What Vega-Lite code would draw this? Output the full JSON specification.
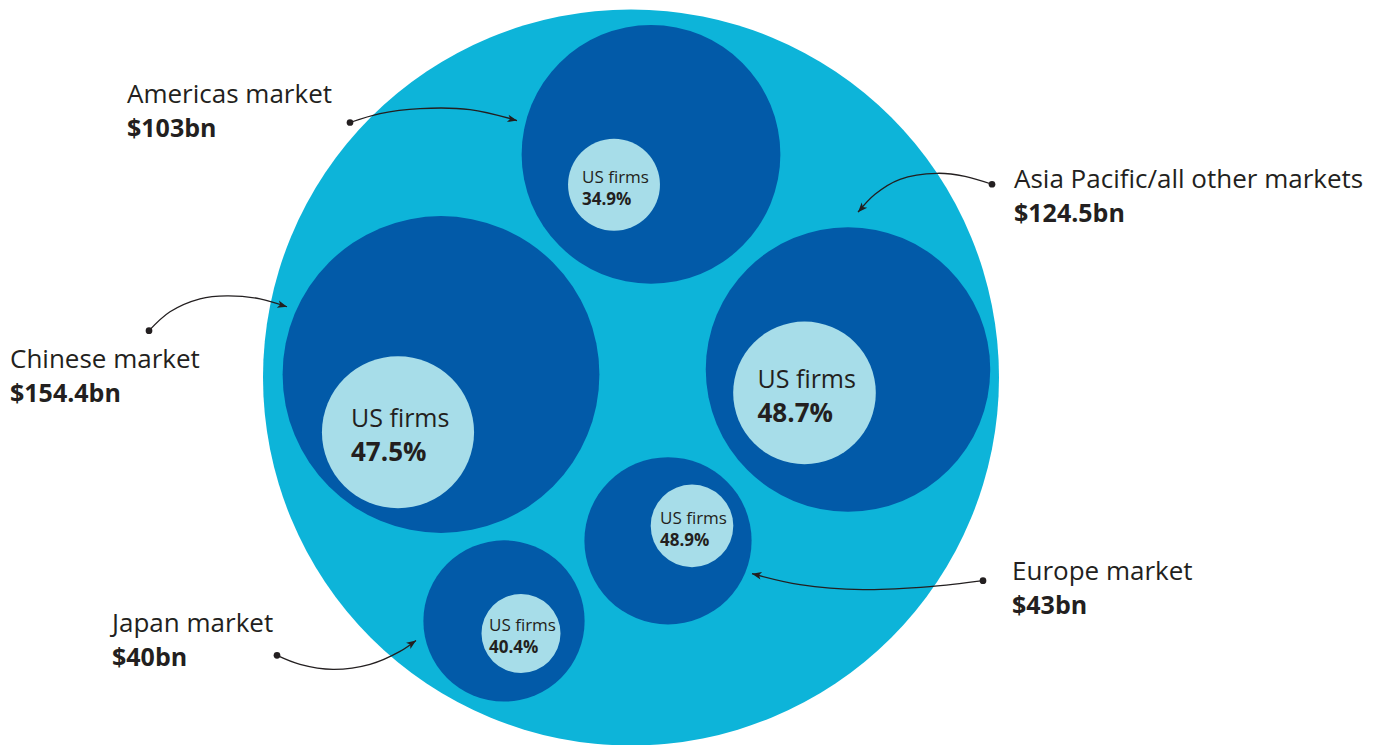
{
  "$schema": "https://vega.github.io/schema/vega-lite/v6.json",
  "autosize": {"type": "fit", "contains": "padding"},
  "width": 1392,
  "height": 745,
  "padding": 0,
  "background": "white",
  "config": {"view": {"stroke": null}, "font": "Open Sans"},
  "datasets": {
    "markets": [
      {"market": "Americas", "value": 103, "share": 0.349, "x": 2.0, "y": 22.4, "ix": -1.7, "iy": 19.35, "inner": 13.0},
      {"market": "Chinese", "value": 154.4, "share": 0.475, "x": -19.0, "y": 0.3, "ix": -23.3, "iy": -5.5, "inner": 35.6},
      {"market": "Asia Pacific/all other", "value": 124.5, "share": 0.487, "x": 21.7, "y": 0.8, "ix": 17.35, "iy": -1.55, "inner": 31.3},
      {"market": "Europe", "value": 43, "share": 0.489, "x": 3.7, "y": -16.4, "ix": 6.1, "iy": -14.9, "inner": 10.5},
      {"market": "Japan", "value": 40, "share": 0.404, "x": -12.7, "y": -24.45, "ix": -11.0, "iy": -25.7, "inner": 9.6}
    ],
    "annotations": [
      {"market": "Americas", "label": "Americas market", "amount": "$103bn", "lx": -50.4, "ly": 27.6, "dotx": -28.1, "doty": 25.6, "tipx": -11.4, "tipy": 25.8, "angle": 13},
      {"market": "Asia Pacific/all other", "label": "Asia Pacific/all other markets", "amount": "$124.5bn", "lx": 38.3, "ly": 19.0, "dotx": 36.1, "doty": 19.4, "tipx": 22.7, "tipy": 16.6, "angle": 133},
      {"market": "Chinese", "label": "Chinese market", "amount": "$154.4bn", "lx": -62.1, "ly": 1.0, "dotx": -48.2, "doty": 4.7, "tipx": -34.4, "tipy": 7.1, "angle": 16},
      {"market": "Europe", "label": "Europe market", "amount": "$43bn", "lx": 38.1, "ly": -20.3, "dotx": 35.2, "doty": -20.4, "tipx": 12.1, "tipy": -19.7, "angle": 193},
      {"market": "Japan", "label": "Japan market", "amount": "$40bn", "lx": -51.9, "ly": -25.6, "dotx": -35.4, "doty": -27.9, "tipx": -21.5, "tipy": -26.4, "angle": 325}
    ],
    "curves": [
      {"market": "Americas", "i": 0, "x": -28.1, "y": 25.6},
      {"market": "Americas", "i": 1, "x": -25.1, "y": 26.5},
      {"market": "Americas", "i": 2, "x": -21.1, "y": 27.0},
      {"market": "Americas", "i": 3, "x": -16.1, "y": 26.9},
      {"market": "Americas", "i": 4, "x": -11.4, "y": 25.8},
      {"market": "Asia Pacific/all other", "i": 0, "x": 36.1, "y": 19.4},
      {"market": "Asia Pacific/all other", "i": 1, "x": 33.4, "y": 20.2},
      {"market": "Asia Pacific/all other", "i": 2, "x": 30.6, "y": 20.5},
      {"market": "Asia Pacific/all other", "i": 3, "x": 26.9, "y": 19.9},
      {"market": "Asia Pacific/all other", "i": 4, "x": 24.4, "y": 18.4},
      {"market": "Asia Pacific/all other", "i": 5, "x": 22.7, "y": 16.6},
      {"market": "Chinese", "i": 0, "x": -48.2, "y": 4.7},
      {"market": "Chinese", "i": 1, "x": -46.1, "y": 6.6},
      {"market": "Chinese", "i": 2, "x": -43.1, "y": 7.9},
      {"market": "Chinese", "i": 3, "x": -40.4, "y": 8.2},
      {"market": "Chinese", "i": 4, "x": -37.1, "y": 7.9},
      {"market": "Chinese", "i": 5, "x": -34.4, "y": 7.1},
      {"market": "Europe", "i": 0, "x": 35.2, "y": -20.4},
      {"market": "Europe", "i": 1, "x": 29.9, "y": -21.0},
      {"market": "Europe", "i": 2, "x": 23.2, "y": -21.3},
      {"market": "Europe", "i": 3, "x": 16.9, "y": -20.8},
      {"market": "Europe", "i": 4, "x": 12.1, "y": -19.7},
      {"market": "Japan", "i": 0, "x": -35.4, "y": -27.9},
      {"market": "Japan", "i": 1, "x": -33.1, "y": -28.8},
      {"market": "Japan", "i": 2, "x": -29.8, "y": -29.3},
      {"market": "Japan", "i": 3, "x": -26.1, "y": -28.8},
      {"market": "Japan", "i": 4, "x": -23.1, "y": -27.5},
      {"market": "Japan", "i": 5, "x": -21.5, "y": -26.4}
    ],
    "total": [
      {"market": "All markets", "value": 464.9, "x": 0, "y": 0}
    ]
  },
  "layer": [
    {
      "data": {"name": "total"},
      "mark": {"type": "point", "filled": true, "opacity": 1, "color": "#0db4d9", "size": 541700, "strokeWidth": 0},
      "encoding": {
        "x": {"field": "x", "type": "quantitative", "scale": {"domain": [-63.1, 76.1], "nice": false, "zero": false}, "axis": null},
        "y": {"field": "y", "type": "quantitative", "scale": {"domain": [-36.6, 37.9], "nice": false, "zero": false}, "axis": null}
      }
    },
    {
      "data": {"name": "markets"},
      "mark": {"type": "point", "filled": true, "opacity": 1, "color": "#025aa8", "strokeWidth": 0},
      "encoding": {
        "x": {"field": "x", "type": "quantitative", "scale": {"domain": [-63.1, 76.1], "nice": false, "zero": false}, "axis": null},
        "y": {"field": "y", "type": "quantitative", "scale": {"domain": [-36.6, 37.9], "nice": false, "zero": false}, "axis": null},
        "size": {"field": "value", "type": "quantitative", "scale": {"type": "linear", "domain": [0, 100], "range": [0, 65000], "zero": true}, "legend": null}
      }
    },
    {
      "data": {"name": "markets"},
      "mark": {"type": "point", "filled": true, "opacity": 1, "color": "#a7dde9", "strokeWidth": 0},
      "encoding": {
        "x": {"field": "ix", "type": "quantitative", "axis": null},
        "y": {"field": "iy", "type": "quantitative", "axis": null},
        "size": {"field": "inner", "type": "quantitative", "legend": null}
      }
    },
    {
      "data": {"name": "markets"},
      "transform": [{"filter": "datum.value > 110"}],
      "mark": {"type": "text", "text": "US firms", "align": "left", "baseline": "alphabetic", "dx": -47, "dy": -5, "fontSize": 25, "color": "#231f20"},
      "encoding": {
        "x": {"field": "ix", "type": "quantitative"},
        "y": {"field": "iy", "type": "quantitative"}
      }
    },
    {
      "data": {"name": "markets"},
      "transform": [{"filter": "datum.value > 110"}],
      "mark": {"type": "text", "align": "left", "baseline": "alphabetic", "dx": -47, "dy": 29, "fontSize": 26, "fontWeight": "bold", "color": "#231f20"},
      "encoding": {
        "x": {"field": "ix", "type": "quantitative"},
        "y": {"field": "iy", "type": "quantitative"},
        "text": {"field": "share", "type": "quantitative", "format": ".1%"}
      }
    },
    {
      "data": {"name": "markets"},
      "transform": [{"filter": "datum.value <= 110"}],
      "mark": {"type": "text", "text": "US firms", "align": "left", "baseline": "alphabetic", "dx": -32, "dy": -2, "fontSize": 17, "color": "#231f20"},
      "encoding": {
        "x": {"field": "ix", "type": "quantitative"},
        "y": {"field": "iy", "type": "quantitative"}
      }
    },
    {
      "data": {"name": "markets"},
      "transform": [{"filter": "datum.value <= 110"}],
      "mark": {"type": "text", "align": "left", "baseline": "alphabetic", "dx": -32, "dy": 20, "fontSize": 17, "fontWeight": "bold", "color": "#231f20"},
      "encoding": {
        "x": {"field": "ix", "type": "quantitative"},
        "y": {"field": "iy", "type": "quantitative"},
        "text": {"field": "share", "type": "quantitative", "format": ".1%"}
      }
    },
    {
      "data": {"name": "curves"},
      "mark": {"type": "line", "interpolate": "catmull-rom", "color": "#231f20", "strokeWidth": 1.3},
      "encoding": {
        "x": {"field": "x", "type": "quantitative"},
        "y": {"field": "y", "type": "quantitative"},
        "detail": {"field": "market"},
        "order": {"field": "i", "type": "quantitative"}
      }
    },
    {
      "data": {"name": "annotations"},
      "mark": {"type": "point", "filled": true, "opacity": 1, "color": "#231f20", "size": 45, "strokeWidth": 0},
      "encoding": {
        "x": {"field": "dotx", "type": "quantitative"},
        "y": {"field": "doty", "type": "quantitative"}
      }
    },
    {
      "data": {"name": "annotations"},
      "mark": {"type": "point", "filled": true, "opacity": 1, "color": "#231f20", "shape": "M0,0L-1,-0.4L-0.75,0L-1,0.4Z", "size": 360, "strokeWidth": 0},
      "encoding": {
        "x": {"field": "tipx", "type": "quantitative"},
        "y": {"field": "tipy", "type": "quantitative"},
        "angle": {"field": "angle", "type": "quantitative", "scale": null}
      }
    },
    {
      "data": {"name": "annotations"},
      "mark": {"type": "text", "align": "left", "baseline": "alphabetic", "fontSize": 26, "color": "#231f20"},
      "encoding": {
        "x": {"field": "lx", "type": "quantitative"},
        "y": {"field": "ly", "type": "quantitative"},
        "text": {"field": "label"}
      }
    },
    {
      "data": {"name": "annotations"},
      "mark": {"type": "text", "align": "left", "baseline": "alphabetic", "dy": 34, "fontSize": 25, "fontWeight": "bold", "color": "#231f20"},
      "encoding": {
        "x": {"field": "lx", "type": "quantitative"},
        "y": {"field": "ly", "type": "quantitative"},
        "text": {"field": "amount"}
      }
    }
  ]
}
